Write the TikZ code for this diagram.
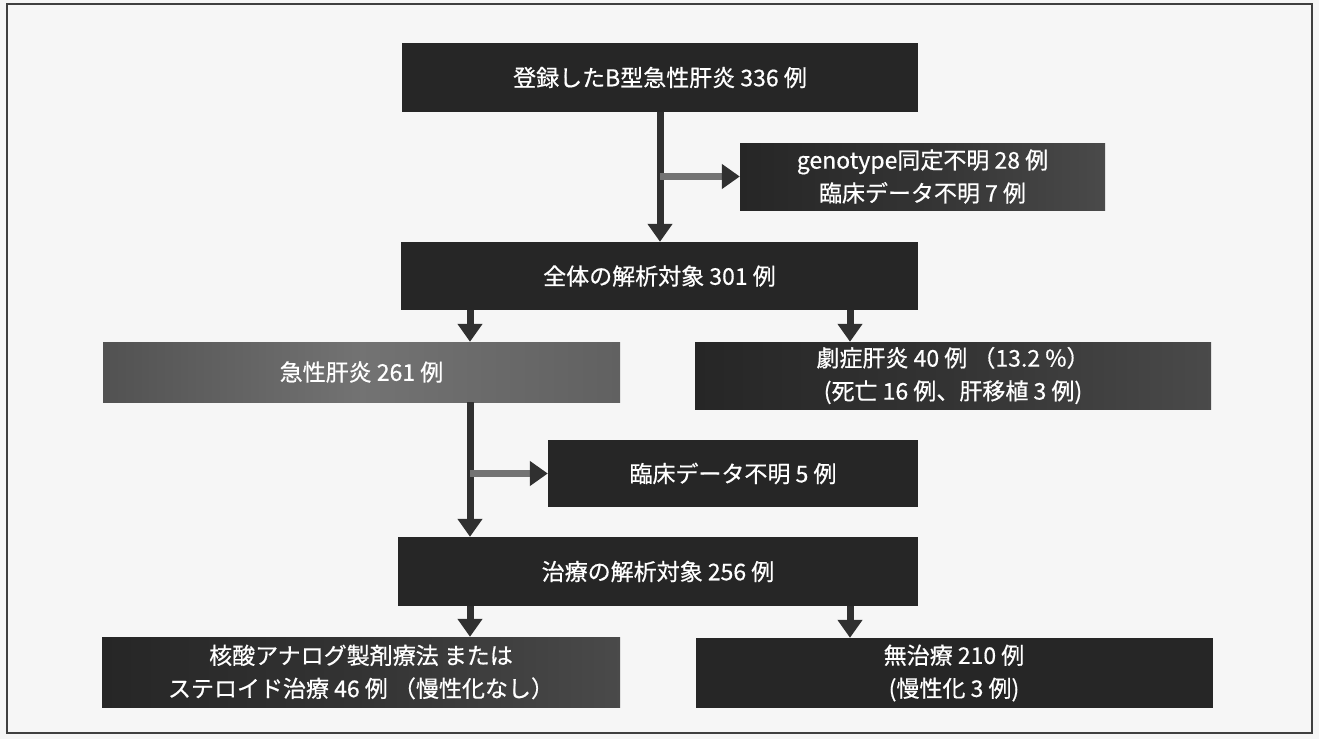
\documentclass[tikz,border=0pt]{standalone}
\usepackage{fontspec}
\newfontfamily\jp[FakeBold=0.6]{Noto Sans CJK JP}
\usetikzlibrary{arrows.meta}
\definecolor{boxdark}{HTML}{262626}
\definecolor{arrowdark}{HTML}{303030}
\definecolor{paper}{HTML}{F6F6F6}
\definecolor{framecol}{HTML}{404040}
\begin{document}
\begin{tikzpicture}[x=1pt,y=-1pt,
  box/.style={fill=boxdark, text=white, inner sep=0pt, align=center,
    font=\jp\fontsize{23}{33}\selectfont},
  fadebox/.style={box, left color=#1, right color=boxdark!60!gray, middle color=boxdark!85!gray},
  greybox/.style={box, left color=black!68, right color=black!62, middle color=black!55},
  arr/.style={draw=arrowdark, line width=7pt, -{Triangle[width=24pt,length=18pt,color=arrowdark]}},
  harr/.style={arr, draw=black!55},
  shaft/.style={draw=arrowdark, line width=7pt}]
\useasboundingbox (0,0) rectangle (1319,739);
\fill[paper] (0,0) rectangle (1319,739);
\draw[framecol, line width=1.5pt] (7,4) rectangle (1312,733);

\node[box, minimum width=516pt, minimum height=69pt] (b1) at (660,77.5) {登録したB型急性肝炎 336 例};
\node[fadebox=boxdark, minimum width=365pt, minimum height=67pt] (b2) at (922.5,176.5) {genotype同定不明 28 例\\臨床データ不明 7 例};
\node[box, minimum width=517pt, minimum height=68pt] (b3) at (659.5,276) {全体の解析対象 301 例};
\node[greybox, minimum width=517pt, minimum height=60pt] (b4) at (361.5,372) {急性肝炎 261 例};
\node[fadebox=boxdark, minimum width=516pt, minimum height=67pt] (b5) at (953,375.5) {劇症肝炎 40 例 （13.2 \%）\\(死亡 16 例、肝移植 3 例)};
\node[box, minimum width=370pt, minimum height=67pt] (b9) at (733,473.5) {臨床データ不明 5 例};
\node[box, minimum width=520pt, minimum height=69pt] (b6) at (658,571.5) {治療の解析対象 256 例};
\node[fadebox=boxdark, minimum width=518pt, minimum height=70pt] (b7) at (361,672) {核酸アナログ製剤療法 または\\ステロイド治療 46 例 （慢性化なし）};
\node[box, minimum width=517pt, minimum height=70pt] (b8) at (954,673) {無治療 210 例\\(慢性化 3 例)};

\coordinate (xl) at (470,0);
\coordinate (xr) at (850,0);

\draw[arr] (b1.south) -- (b1.south |- b3.north);
\draw[harr] (b1.south |- b2.west) -- (b2.west);
\draw[arr] (xl |- b3.south) -- (xl |- b4.north);
\draw[arr] (xr |- b3.south) -- (xr |- b5.north);
\draw[arr] (xl |- b4.south) -- (xl |- b6.north);
\draw[harr] (xl |- b9.west) -- (b9.west);
\draw[arr] (xl |- b6.south) -- (xl |- b7.north);
\draw[arr] (xr |- b6.south) -- (xr |- b8.north);
\end{tikzpicture}
\end{document}
